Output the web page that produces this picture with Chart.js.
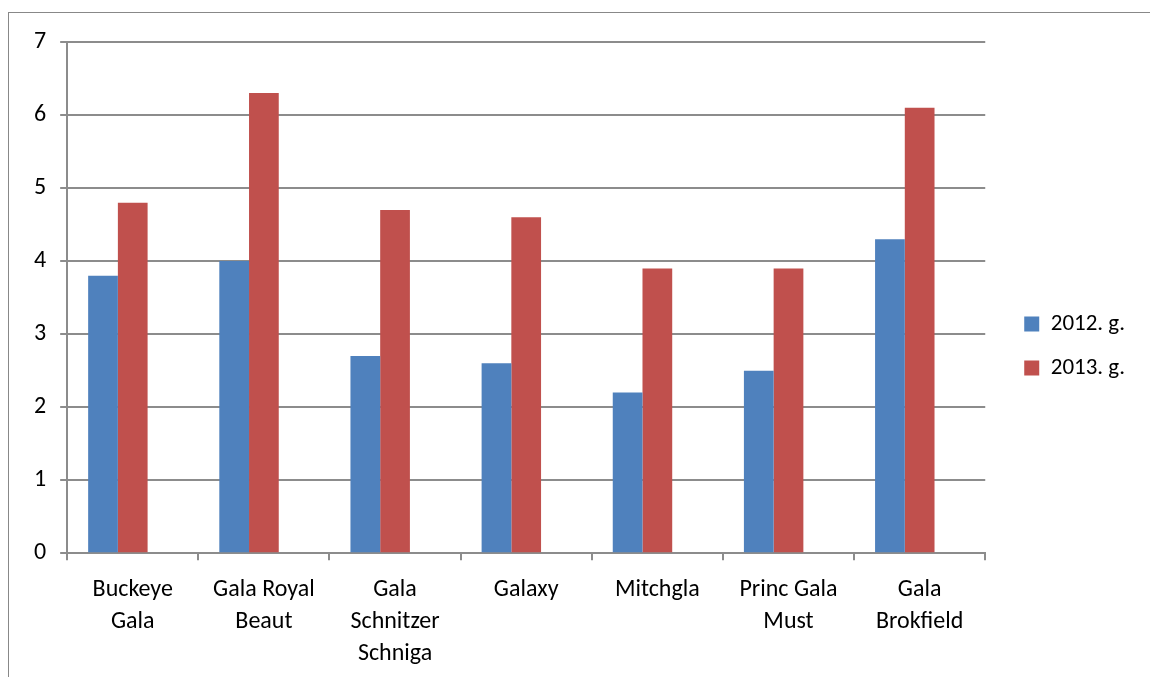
<!DOCTYPE html>
<html>
<head>
<meta charset="utf-8">
<script src="https://cdn.jsdelivr.net/npm/chart.js@4"></script>
<style>
  html, body { margin: 0; padding: 0; background: #fff; }
  #wrap { position: relative; width: 1150px; height: 677px; overflow: hidden; }
  #frame { position: absolute; left: 8px; top: 12px; width: 1200px; height: 700px;
           border-left: 1px solid #888; border-top: 1px solid #888; }
  canvas { position: absolute; left: 0; top: 0; }
</style>
</head>
<body>
<div id="wrap">
  <div id="frame"></div>
  <canvas id="barChart" width="1150" height="677"></canvas>
</div>
<script>
// sorti (kategorijas)
const categories = [
  ['Buckeye', 'Gala'],
  ['Gala Royal', 'Beaut'],
  ['Gala', 'Schnitzer', 'Schniga'],
  'Galaxy',
  'Mitchgla',
  ['Princ Gala', 'Must'],
  ['Gala', 'Brokfield']
];
const values2012 = [3.8, 4.0, 2.7, 2.6, 2.2, 2.5, 4.3];
const values2013 = [4.8, 6.3, 4.7, 4.6, 3.9, 3.9, 6.1];
// oriģinālajā diagrammā ir trešā, tukša sērija (tāpēc stabiņi nobīdīti pa kreisi)
const valuesEmpty = [null, null, null, null, null, null, null];
const yTicks = [0, 1, 2, 3, 4, 5, 6, 7];

const gridGray = '#8c8c8c';
const font = "Calibri, Carlito, Lato, sans-serif";

Chart.defaults.font.family = font;
Chart.defaults.color = '#000';

// legendu nobīda pa labi un uz augšu
const legendShift = {
  id: 'legendShift',
  afterLayout(chart) {
    chart.legend.left += 18;
    chart.legend.right += 35;
    chart.legend.top -= 17;
    chart.legend.bottom -= 17;
  }
};

const ctx = document.getElementById('barChart').getContext('2d');
const chart = new Chart(ctx, {
  type: 'bar',
  data: {
    labels: categories,
    datasets: [
      { label: '2012. g.', data: values2012, backgroundColor: '#4f81bd' },
      { label: '2013. g.', data: values2013, backgroundColor: '#c0504d' },
      { label: '', data: valuesEmpty, backgroundColor: 'rgba(0,0,0,0)' }
    ]
  },
  options: {
    responsive: false,
    animation: false,
    layout: { padding: { top: 42, left: 20, right: 33, bottom: -7 } },
    datasets: {
      bar: { categoryPercentage: 0.68, barPercentage: 1.0 }
    },
    plugins: {
      tooltip: { enabled: false },
      legend: {
        position: 'right',
        labels: {
          boxWidth: 15, boxHeight: 15, padding: 21,
          font: { size: 23 },
          filter: (item) => item.text !== ''
        }
      }
    },
    scales: {
      x: {
        grid: { drawOnChartArea: false, color: gridGray, lineWidth: 2, tickLength: 7, offset: true },
        border: { color: gridGray, width: 2 },
        ticks: { font: { size: 24, lineHeight: 1.33 }, padding: 14, maxRotation: 0, autoSkip: false }
      },
      y: {
        min: 0, max: 7,
        afterBuildTicks: (axis) => { axis.ticks = yTicks.map(v => ({ value: v })); },
        grid: { color: gridGray, lineWidth: 2, tickLength: 7 },
        border: { color: gridGray, width: 2 },
        ticks: { font: { size: 24 }, padding: 14 }
      }
    }
  },
  plugins: [legendShift]
});
</script>
</body>
</html>
